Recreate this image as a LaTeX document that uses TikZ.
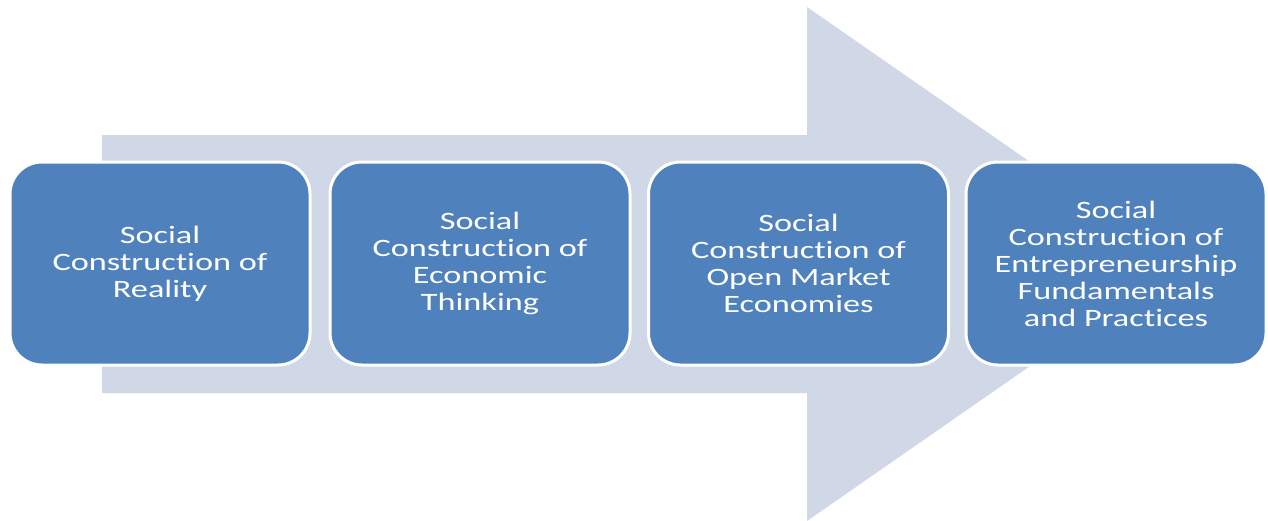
\documentclass[tikz,border=0pt]{standalone}
\usepackage{fontspec}
\setmainfont{Carlito}[Ligatures=NoCommon]
\definecolor{boxblue}{HTML}{4F81BD}
\definecolor{arrowgray}{HTML}{D0D8E8}
\begin{document}
\begin{tikzpicture}[x=1pt,y=-1pt,
  stage/.style={rectangle, rounded corners=32pt, fill=boxblue, draw=white, line width=3pt,
    minimum width=300pt, minimum height=203pt, inner sep=0pt},
  stagetext/.style={text=white, align=center, font=\fontsize{25}{27}\selectfont,
    xscale=1.37, transform shape, inner sep=0pt}]
\useasboundingbox (0,0) rectangle (1268,520);
\fill[arrowgray] (102,135) -- (807,135) -- (807,7) -- (1177,264) -- (807,521)
  -- (807,393) -- (102,393) -- cycle;
\node[stage] (b1) at (160,263.5) {};
\node[stage] (b2) at (480,263.5) {};
\node[stage] (b3) at (798.5,263.5) {};
\node[stage] (b4) at (1116,263.5) {};
\node[stagetext] (t1) at (b1) {Social\\Construction of\\Reality};
\node[stagetext] (t2) at (b2) {Social\\Construction of\\Economic\\Thinking};
\node[stagetext] (t3) at (b3) {Social\\Construction of\\Open Market\\Economies};
\node[stagetext] (t4) at (b4) {Social\\Construction of\\Entrepreneurship\\Fundamentals\\and Practices};
\end{tikzpicture}
\end{document}
